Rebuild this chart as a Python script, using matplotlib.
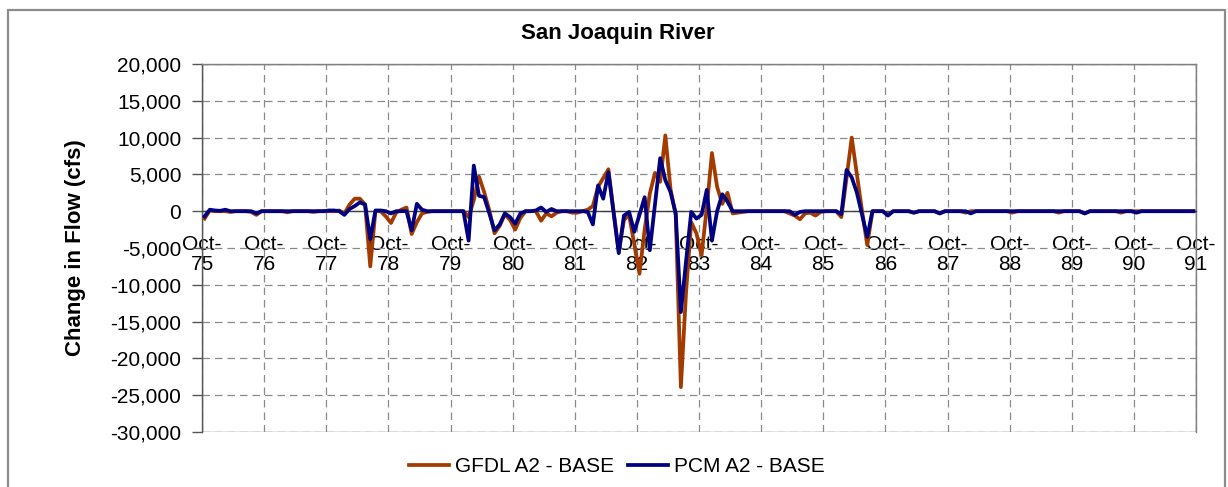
import matplotlib
matplotlib.use("Agg")
import matplotlib.pyplot as plt
from matplotlib.patches import Rectangle
from matplotlib.ticker import FuncFormatter, MultipleLocator

plt.rcParams['font.family'] = ['Liberation Sans', 'DejaVu Sans']

# Monthly change in flow (cfs), water years Oct-75 .. Sep-91, one row per water year (Oct..Sep)
gfdl_a2 = [
    -1000, 100, 0, 0, 0, -100, 0, 0, 0, -100, -500, 0,          # WY76
    0, 0, 0, 0, -150, 0, 0, 0, 0, -100, 0, 0,                   # WY77
    0, 0, 100, -300, 900, 1700, 1700, 900, -7500, 0, 0, -700,   # WY78
    -1600, -200, 200, 500, -3100, -1500, -300, -100, 0, 0, 0, 0,  # WY79
    0, 0, 0, -800, 1500, 4700, 2600, 100, -3000, -2000, -400, -1200,  # WY80
    -2500, -900, 0, 0, 0, -1300, -300, -700, -200, 0, 0, -200,  # WY81
    -200, 0, 200, 700, 3300, 4500, 5700, 0, -5500, -1200, -500, -4500,  # WY82
    -8500, -2500, 2400, 5200, 4000, 10300, 3000, -500, -23900, -11000, -1500, -3000,  # WY83
    -6000, 500, 7900, 3300, 1000, 2500, -300, -200, -100, 0, 0, 0,  # WY84
    0, 0, 0, 0, 0, -300, -600, -1100, -300, -200, -600, -100,   # WY85
    0, 0, 0, -800, 4500, 10000, 5000, 0, -4600, 0, 0, 0,        # WY86
    -500, 0, 0, 0, 0, -200, 0, 0, 0, 0, -300, 0,                # WY87
    0, 0, 0, -200, 0, 0, 0, 0, 0, 0, 0, 0,                      # WY88
    -200, 0, 0, 0, 0, 0, 0, 0, 0, -200, 0, 0,                   # WY89
    0, 0, -300, 0, 0, 0, 0, 0, 0, -200, 0, 0,                   # WY90
    0, 0, 0, 0, 0, 0, 0, 0, 0, 0, 0, 0,                         # WY91
]

pcm_a2 = [
    -700, 200, 100, 50, 200, 0, 0, 0, 0, 0, -300, 0,            # WY76
    0, 0, 0, 0, 0, 0, 0, 0, 0, 0, 0, 0,                         # WY77
    100, 100, 0, -500, 300, 700, 1200, 900, -3800, 100, 100, 0, # WY78
    -300, 0, 0, 0, -2600, 1000, 200, 0, 0, 0, 0, 0,             # WY79
    0, 0, 0, -4000, 6200, 2100, 1900, -300, -2600, -1800, -300, -800,  # WY80
    -1700, -300, 0, 0, 100, 500, -100, 300, 0, 0, 0, 0,         # WY81
    0, 0, -100, -1800, 3500, 1700, 5300, -200, -5700, -600, -100, -2800,  # WY82
    -500, 1900, -5300, 1000, 7200, 4200, 2600, -300, -13700, -6800, -100, -1000,  # WY83
    -500, 2900, -4000, 0, 2300, 1300, 0, 0, 0, 0, 0, 0,         # WY84
    0, 0, 0, 0, 0, 0, -500, -100, 0, 0, 0, 0,                   # WY85
    0, 0, 0, -400, 5600, 4600, 2500, -500, -3500, 0, 0, 0,      # WY86
    -600, 0, 0, 0, 0, -200, 0, 0, 0, 0, -300, 0,                # WY87
    0, 0, 0, 0, -300, 0, 0, 0, 0, 0, 0, 0,                      # WY88
    0, 0, 0, 0, 0, 0, 0, 0, 0, 0, 0, 0,                         # WY89
    0, 0, -300, 0, 0, 0, 0, 0, 0, 0, 0, 0,                      # WY90
    -200, 0, 0, 0, 0, 0, 0, 0, 0, 0, 0, 0,                      # WY91
]

year_labels = ["75", "76", "77", "78", "79", "80", "81", "82", "83",
               "84", "85", "86", "87", "88", "89", "90", "91"]
series_names = ["GFDL A2 - BASE", "PCM A2 - BASE"]
series_colors = ["#A33A00", "#000080"]

W, H = 1228, 487
fig = plt.figure(figsize=(W / 100, H / 100), dpi=100)

# outer chart frame
fig.patches.append(Rectangle((8 / W, -0.05), (1225 - 8) / W, 1 - 10 / H + 0.05,
                             transform=fig.transFigure, fill=False,
                             edgecolor="#8C8C8C", linewidth=1.6))

ax = fig.add_axes([202 / W, 1 - 432 / H, 994 / W, 368 / H])
ax.set_axisbelow(True)

x = [m + 0.5 for m in range(len(gfdl_a2))]
for vals, name, col in zip([gfdl_a2, pcm_a2], series_names, series_colors):
    ax.plot(x, vals, color=col, linewidth=2.7, label=name, zorder=4,
            solid_joinstyle="round")

ax.set_xlim(0, 12 * (len(year_labels) - 1))
ax.set_ylim(-30000, 20000)

ax.yaxis.set_major_locator(MultipleLocator(5000))
ax.yaxis.set_major_formatter(FuncFormatter(lambda v, p: f"{v:,.0f}"))
ax.set_xticks([12 * i for i in range(len(year_labels))])
ax.set_xticklabels([f"Oct-\n{y}" for y in year_labels])

ax.grid(True, color="#8A8A8A", linestyle=(0, (6, 4)), linewidth=0.9)

for side in ["top", "right", "left"]:
    ax.spines[side].set_color("#808080")
    ax.spines[side].set_linewidth(1.0)
ax.spines["left"].set_color("#555555")
ax.spines["bottom"].set_position(("data", 0))
ax.spines["bottom"].set_color("#404040")
ax.spines["bottom"].set_linewidth(1.0)
# bottom edge of the plot area
ax.add_patch(Rectangle((0, 0), 1, 1, transform=ax.transAxes, fill=False,
                       edgecolor="#808080", linewidth=1.0, zorder=0.6))

ax.tick_params(axis="x", length=0, pad=17, labelsize=15)
ax.tick_params(axis="y", length=7, width=1.0, color="#555555", pad=8,
               labelsize=15, direction="out")
for lbl in ax.get_xticklabels():
    lbl.set_linespacing(1.05)

ax.set_ylabel("Change in Flow (cfs)", fontsize=16, fontweight="bold")
ax.yaxis.set_label_coords(-0.117, 0.5)

fig.text(618 / W, 1 - 34 / H, "San Joaquin River", ha="center", va="center",
         fontsize=16, fontweight="bold")

fig.legend(loc="center", bbox_to_anchor=(617 / W, 1 - 467 / H), ncol=2,
           frameon=False, fontsize=15, handlelength=1.9, handletextpad=0.3,
           columnspacing=0.7)

fig.savefig("out.png", dpi=100)
